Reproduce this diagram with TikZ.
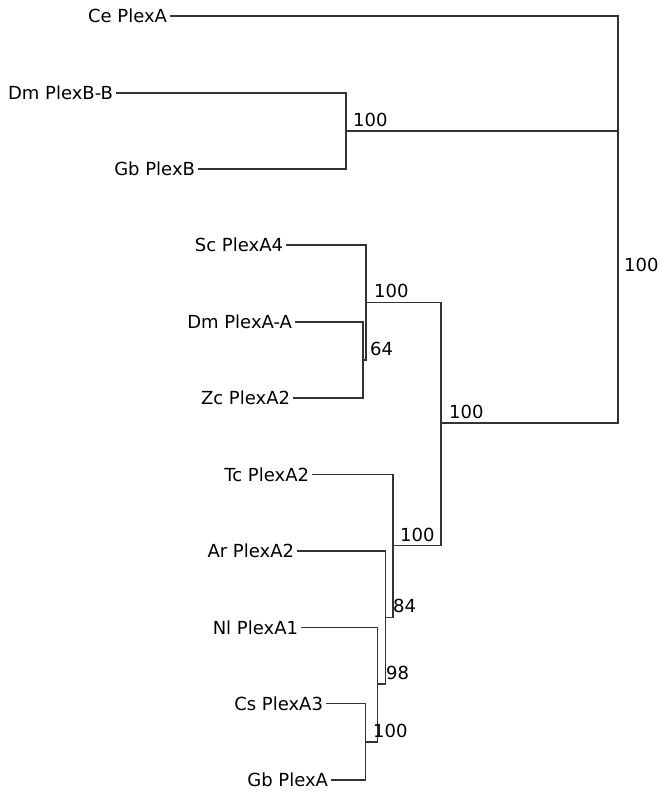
\documentclass[tikz,border=0pt]{standalone}
\usepackage{fontspec}
\setmainfont{DejaVu Sans}
\begin{document}
\begin{tikzpicture}[x=1pt,y=-1pt,
  leaf/.style={anchor=east,inner sep=0pt,outer xsep=3pt,font=\fontsize{18}{20}\selectfont},
  supp/.style={anchor=base west,inner sep=0pt,font=\fontsize{18}{20}\selectfont},
  br/.style={draw=black!80,line width=1.3pt}]
\useasboundingbox (0,0) rectangle (659,791);
% leaves
\node[leaf] (ce)  at (170,16)    {Ce PlexA};
\node[leaf] (dmb) at (116,93)    {Dm PlexB-B};
\node[leaf] (gbb) at (198,169)   {Gb PlexB};
\node[leaf] (sc)  at (286,245)   {Sc PlexA4};
\node[leaf] (dma) at (295,322)   {Dm PlexA-A};
\node[leaf] (zc)  at (293,398)   {Zc PlexA2};
\node[leaf] (tc)  at (312,474.5) {Tc PlexA2};
\node[leaf] (ar)  at (297,551)   {Ar PlexA2};
\node[leaf] (nl)  at (301,627.5) {Nl PlexA1};
\node[leaf] (cs)  at (326,703.5) {Cs PlexA3};
\node[leaf] (gba) at (331,780)   {Gb PlexA};
% internal nodes
\coordinate (r0)   at (618,146.5);
\coordinate (r1)   at (618,277);
\coordinate (b)    at (346,131);
\coordinate (a)    at (441,423);
\coordinate (s)    at (366,302.5);
\coordinate (m)    at (363,360);
\coordinate (t)    at (393,545.7);
\coordinate (n84)  at (385.7,617.3);
\coordinate (n98)  at (377.3,684);
\coordinate (n100) at (365.7,742);
% branches
\draw[br] (ce.east) -| (r0) |- (r1);
\draw[br] (b) -| (r1) |- (a);
\draw[br] (dmb.east) -| (b) |- (gbb.east);
\draw[br] (s) -| (a) |- (t);
\draw[br] (sc.east) -| (s) |- (m);
\draw[br] (dma.east) -| (m) |- (zc.east);
\draw[br] (tc.east) -| (t) |- (n84);
\draw[br] (ar.east) -| (n84) |- (n98);
\draw[br] (nl.east) -| (n98) |- (n100);
\draw[br] (cs.east) -| (n100) |- (gba.east);
% support values
\node[supp] (lb)   at (353,126.5) {100};
\node[supp] (lr1)  at (624,272)   {100};
\node[supp] (la)   at (449,418)   {100};
\node[supp] (ls)   at (374,297.5) {100};
\node[supp] (lm)   at (370,355.5) {64};
\node[supp] (lt)   at (400,541)   {100};
\node[supp] (l84)  at (393,612.5) {84};
\node[supp] (l98)  at (386,679.5) {98};
\node[supp] (l100) at (373,737)   {100};
\end{tikzpicture}
\end{document}
